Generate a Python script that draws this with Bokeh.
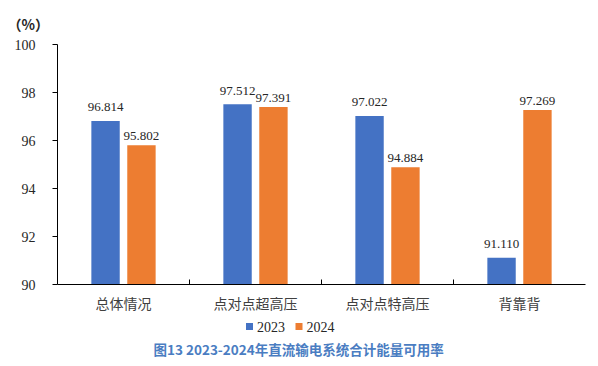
from bokeh.plotting import figure
from bokeh.models import ColumnDataSource, FixedTicker, Range1d, Title
from bokeh.layouts import column
from bokeh.core.properties import value
from bokeh.embed import file_html
from bokeh.resources import INLINE

categories = ["总体情况", "点对点超高压", "点对点特高压", "背靠背"]
series_names = ["2023", "2024"]
values_2023 = [96.814, 97.512, 97.022, 91.110]
values_2024 = [95.802, 97.391, 94.884, 97.269]
y_ticks = [90, 92, 94, 96, 98, 100]
unit_label = "（%）"
caption = "图13  2023-2024年直流输电系统合计能量可用率"

colors = ["#4472C4", "#ED7D31"]
label_lift = [-9.5, -5]
offset = 0.136
bar_w = 0.215
W = 590
FL, FR = 57, 585  # frame left/right in page px

p = figure(width=W, height=320, output_backend="svg", toolbar_location=None,
           x_range=Range1d(0, len(categories)), y_range=Range1d(90, 100),
           min_border_left=FL, min_border_right=W - FR, min_border_top=43, min_border_bottom=36)
p.outline_line_color = None
p.xgrid.visible = False
p.ygrid.visible = False

for k, (vals, col) in enumerate(zip([values_2023, values_2024], colors)):
    xs = [i + 0.5 + (offset if k else -offset) for i in range(len(categories))]
    src = ColumnDataSource(dict(x=xs, top=vals, lab=[f"{v:.3f}" for v in vals]))
    p.vbar(x="x", top="top", bottom=90, width=bar_w, source=src, fill_color=col, line_color=None)
    p.text(x="x", y="top", text="lab", source=src, text_align="center", text_baseline="bottom",
           y_offset=label_lift[k], text_font=value("Liberation Serif"), text_font_size="13px",
           text_color="#262626")

# y axis
p.yaxis.ticker = FixedTicker(ticks=y_ticks)
p.yaxis.major_tick_in = 0
p.yaxis.major_tick_out = 5
p.yaxis.minor_tick_line_color = None
p.yaxis.axis_line_color = "black"
p.yaxis.major_tick_line_color = "black"
p.yaxis.major_label_text_font = "Liberation Serif"
p.yaxis.major_label_text_font_size = "14px"
p.yaxis.major_label_text_color = "#262626"
p.yaxis.major_label_standoff = 17

# x axis
centers = [i + 0.5 for i in range(len(categories))]
p.xaxis.ticker = FixedTicker(ticks=centers, minor_ticks=list(range(1, len(categories))))
p.xaxis.major_label_overrides = {c: lab for c, lab in zip(centers, categories)}
p.xaxis.major_tick_line_color = None
p.xaxis.minor_tick_in = 5
p.xaxis.minor_tick_out = 0
p.xaxis.minor_tick_line_color = "black"
p.xaxis.axis_line_color = "black"
p.xaxis.major_label_text_font = "Noto Sans CJK SC"
p.xaxis.major_label_text_font_size = "14px"
p.xaxis.major_label_text_color = "#404040"
p.xaxis.major_label_standoff = 2

# unit label above the plot
unit = Title(text=unit_label, align="left", offset=-50, text_font="Noto Sans CJK SC",
             text_font_size="14px", text_font_style="bold", text_color="#262626", standoff=22)
p.add_layout(unit, "above")

# legend + caption strip (x in page px; frames are aligned by the column layout)
H2 = 38
q = figure(width=W, height=H2, output_backend="svg", toolbar_location=None,
           x_range=Range1d(FL, FR), y_range=Range1d(0, H2), min_border=0)
q.axis.visible = False
q.grid.visible = False
q.outline_line_color = None

leg_x = [249, 298.5]
leg_src = ColumnDataSource(dict(x=leg_x, tx=[x + 7.5 for x in leg_x], y=[32, 32],
                                name=series_names, color=colors))
q.scatter(x="x", y="y", marker="square", size=7, fill_color="color", line_color=None, source=leg_src)
q.text(x="tx", y="y", text="name", source=leg_src, text_baseline="middle", text_align="left",
       text_font=value("Liberation Serif"), text_font_size="14px", text_color="#262626")

q.text(x=[153], y=[10], text=[caption], text_baseline="middle", text_align="left",
       text_font=value("Noto Sans CJK SC"), text_font_size="13.5px", text_font_style="bold",
       text_color="#4A7DC2")

layout = column(p, q, spacing=0)
open("out.html", "w").write(file_html(layout, INLINE))
